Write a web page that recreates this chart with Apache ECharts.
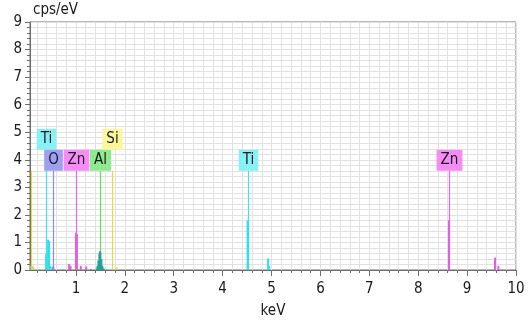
<!DOCTYPE html>
<html>
<head>
<meta charset="utf-8">
<script src="https://cdn.jsdelivr.net/npm/echarts@6/dist/echarts.min.js"></script>
<style>
  html, body { margin: 0; padding: 0; background: #ffffff; }
  #chart { width: 529px; height: 324px; }
</style>
</head>
<body>
<div id="chart"></div>
<script>
// EDS spectrum: counts per eV against energy (keV)

// Axis labels
const xTickLabels = [1, 2, 3, 4, 5, 6, 7, 8, 9, 10];
const yTickLabels = [0, 1, 2, 3, 4, 5, 6, 7, 8, 9];

// Element marker lines: energy (keV), element name, marker height (cps/eV)
const markerEnergies = [0.09, 0.395, 0.525, 1.0, 1.49, 1.74, 4.51, 8.63];
const markerLabels   = ['', 'Ti', 'O', 'Zn', 'Al', 'Si', 'Ti', 'Zn'];
const markerHeight   = 3.6;

// Spectrum counts, grouped by the element region they belong to: [keV, cps/eV]
const lowEnergyCounts = [[0.09, 0.15], [0.11, 0.14], [0.13, 0.1], [0.30, 0.04], [0.33, 0.03]];
const tiCounts = [[0.39, 0.58], [0.43, 1.1], [0.45, 1.05], [0.47, 0.15],
                  [4.51, 1.8], [4.93, 0.42], [4.95, 0.15]];
const oCounts  = [[0.52, 0.12], [0.54, 0.08]];
const znCounts = [[0.86, 0.22], [0.89, 0.15], [1.0, 1.35], [1.02, 1.3], [1.10, 0.15], [1.21, 0.13],
                  [8.63, 1.8], [9.57, 0.45], [9.64, 0.15]];
const alCounts = [[1.31, 0.03], [1.42, 0.05], [1.44, 0.15], [1.46, 0.35], [1.48, 0.6], [1.49, 0.68],
                  [1.50, 0.62], [1.52, 0.4], [1.54, 0.15], [1.56, 0.06], [1.58, 0.03]];
const siCounts = [[1.83, 0.1]];

// Colours per element
const elementLine = { '': '#e4dc40', Ti: '#3fe3ec', O: '#8c8cf0', Zn: '#e36ae3', Al: '#66de66', Si: '#e4dc40' };
const elementBox  = { Ti: '#86f2f8', O: '#9e9ef2', Zn: '#f58cf5', Al: '#8ceb8c', Si: '#fbf79a' };
const upperRow = (name, e) => (name === 'Ti' && e < 1) || name === 'Si';

const FONT = 'DejaVu Sans Condensed';
const minorTicks = [];
for (let i = 1; i <= 50; i++) minorTicks.push(+(i * 0.2).toFixed(1));

function spectrumSeries(data, color) {
  return {
    type: 'bar', xAxisIndex: 0, data: data, barWidth: 2, barGap: '-100%',
    itemStyle: { color: color }, silent: true, z: 3
  };
}

// Marker line plus its element tag, drawn in data coordinates
function renderMarker(params, api) {
  const e = api.value(0);
  const h = api.value(1);
  const name = markerLabels[params.dataIndex];
  const base = api.coord([e, 0]);
  const top = api.coord([e, h]);
  const x = Math.round(base[0]) + 0.5;
  const children = [{
    type: 'line',
    shape: { x1: x, y1: base[1], x2: x, y2: top[1] },
    style: { stroke: elementLine[name], lineWidth: 1.2 }
  }];
  if (name) {
    const lift = upperRow(name, e) ? 21 : 0;
    children.push({
      type: 'text',
      x: x, y: top[1] - lift,
      style: {
        text: name, align: 'center', verticalAlign: 'bottom',
        fill: '#1a1a1a', font: '15px "' + FONT + '"',
        backgroundColor: elementBox[name], padding: [2, 4, 2, 4], lineHeight: 17
      }
    });
  }
  return { type: 'group', children: children };
}

const chart = echarts.init(document.getElementById('chart'), null, { renderer: 'canvas' });
chart.setOption({
  animation: false,
  backgroundColor: '#ffffff',
  grid: { left: 30, right: 13, top: 22, bottom: 53, show: true, borderColor: '#6e6e6e', borderWidth: 1 },
  xAxis: [{
    type: 'value', min: 0.06, max: 10,
    name: 'keV', nameLocation: 'middle', nameGap: 34,
    nameTextStyle: { color: '#1a1a1a', fontFamily: FONT, fontSize: 15 },
    axisLine: { show: true, lineStyle: { color: '#6e6e6e' } },
    axisTick: { show: true, customValues: minorTicks, length: 3, lineStyle: { color: '#6e6e6e' } },
    axisLabel: { customValues: xTickLabels, color: '#1a1a1a', fontFamily: FONT, fontSize: 15, margin: 12,
                 showMinLabel: true, showMaxLabel: true },
    splitLine: { show: true, lineStyle: { color: '#e2e2e2', width: 1 } }
  }, {
    type: 'value', min: 0.06, max: 10, position: 'bottom', gridIndex: 0,
    axisLine: { show: false },
    axisTick: { show: true, customValues: xTickLabels, length: 6, lineStyle: { color: '#6e6e6e' } },
    axisLabel: { show: false },
    splitLine: { show: false }
  }],
  yAxis: {
    type: 'value', min: 0, max: 9, interval: 1,
    name: 'cps/eV', nameLocation: 'end', nameGap: 4,
    nameTextStyle: { color: '#1a1a1a', fontFamily: FONT, fontSize: 15, align: 'left', padding: [0, 0, 0, 3] },
    axisLine: { show: true, lineStyle: { color: '#6e6e6e' } },
    axisTick: { show: true, length: 5, lineStyle: { color: '#6e6e6e' } },
    minorTick: { show: true, splitNumber: 5, length: 3, lineStyle: { color: '#6e6e6e' } },
    axisLabel: { color: '#1a1a1a', fontFamily: FONT, fontSize: 15, margin: 8,
                 formatter: v => (yTickLabels.includes(v) ? String(v) : '') },
    splitLine: { show: true, lineStyle: { color: '#e2e2e2' } },
    minorSplitLine: { show: true, lineStyle: { color: '#e2e2e2' } }
  },
  series: [
    {
      type: 'custom', xAxisIndex: 0, renderItem: renderMarker, silent: true, z: 2,
      encode: { x: 0, y: 1 },
      data: markerEnergies.map(e => [e, markerHeight])
    },
    spectrumSeries(lowEnergyCounts, '#bde06a'),
    spectrumSeries(oCounts, '#8c8cf0'),
    spectrumSeries(tiCounts, '#2fe0ea'),
    spectrumSeries(znCounts, '#e060e0'),
    spectrumSeries(alCounts, '#25a394'),
    spectrumSeries(siCounts, '#e4dc40')
  ]
});
</script>
</body>
</html>
